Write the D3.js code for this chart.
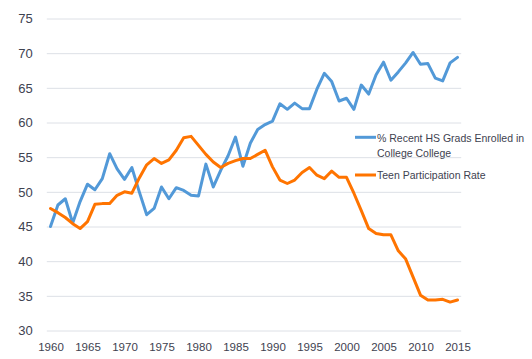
<!DOCTYPE html>
<html>
<head>
<meta charset="utf-8">
<script src="https://cdn.jsdelivr.net/npm/d3@7"></script>
<style>
  html, body { margin: 0; padding: 0; background: #ffffff; }
  svg { display: block; font-family: "Liberation Sans", Arial, Helvetica, sans-serif; }
</style>
</head>
<body>
<div id="chart"></div>
<script>
const years = d3.range(1960, 2016);
const enrolled = [45.0, 48.1, 49.0, 45.5, 48.6, 51.1, 50.3, 51.9, 55.5, 53.3,
  51.8, 53.5, 50.0, 46.7, 47.6, 50.7, 49.0, 50.6, 50.2, 49.5,
  49.4, 54.0, 50.7, 53.1, 55.2, 57.9, 53.7, 57.0, 59.0, 59.7,
  60.2, 62.7, 61.9, 62.8, 62.0, 62.0, 64.8, 67.1, 65.9, 63.1,
  63.5, 61.9, 65.4, 64.1, 66.9, 68.7, 66.1, 67.3, 68.6, 70.1,
  68.4, 68.5, 66.4, 66.0, 68.6, 69.4];
const teen = [47.6, 47.0, 46.3, 45.4, 44.7, 45.7, 48.2, 48.3, 48.3, 49.5,
  50.0, 49.8, 52.0, 53.9, 54.8, 54.1, 54.6, 56.0, 57.8, 58.0,
  56.7, 55.4, 54.3, 53.5, 54.1, 54.5, 54.8, 54.8, 55.4, 56.0,
  53.6, 51.7, 51.2, 51.7, 52.8, 53.5, 52.4, 51.9, 53.0, 52.1,
  52.1, 49.8, 47.3, 44.7, 44.0, 43.8, 43.8, 41.5, 40.3, 37.7,
  35.1, 34.4, 34.4, 34.5, 34.1, 34.4];
const seriesNames = ["% Recent HS Grads Enrolled in College College", "Teen Participation Rate"];
const legendLines = [["% Recent HS Grads Enrolled in", "College College"], ["Teen Participation Rate"]];
const yTicks = [30, 35, 40, 45, 50, 55, 60, 65, 70, 75];
const xTicks = [1960, 1965, 1970, 1975, 1980, 1985, 1990, 1995, 2000, 2005, 2010, 2015];
const colors = ["#5299d8", "#ff7400"];

const W = 532, H = 359;
const svg = d3.select("#chart").append("svg").attr("width", W).attr("height", H);

const x = d3.scaleLinear().domain([1959.5, 2015.5]).range([46.8, 461.2]);
const y = d3.scaleLinear().domain([30, 75]).range([330.5, 18.5]);

// Y axis with gridlines
const yAxis = d3.axisLeft(y).tickValues(yTicks).tickSize(-(x.range()[1] - x.range()[0])).tickPadding(14);
const gy = svg.append("g").attr("transform", `translate(${x.range()[0]},0)`).call(yAxis);
gy.select(".domain").remove();
gy.selectAll(".tick line").attr("stroke", "#dde0e6").attr("stroke-width", 1);
gy.selectAll(".tick text").attr("fill", "#3e4250").attr("font-size", 13).attr("font-family", "Liberation Sans, Arial, sans-serif");

// X axis labels
const xAxis = d3.axisBottom(x).tickValues(xTicks).tickFormat(d3.format("d")).tickSize(0).tickPadding(12);
const gx = svg.append("g").attr("transform", `translate(0,${y(30)})`).call(xAxis);
gx.select(".domain").remove();
gx.selectAll(".tick text").attr("fill", "#3e4250").attr("font-size", 11.5).attr("font-family", "Liberation Sans, Arial, sans-serif");

const line = d3.line().x((d, i) => x(years[i])).y(d => y(d));
[enrolled, teen].forEach((s, k) => {
  svg.append("path").datum(s)
    .attr("d", line)
    .attr("fill", "none")
    .attr("stroke", colors[k])
    .attr("stroke-width", 3)
    .attr("stroke-linejoin", "round")
    .attr("stroke-linecap", "round");
});

// Legend
const legendY = [137.3, 175];
legendLines.forEach((lines, k) => {
  const g = svg.append("g");
  g.append("line").attr("x1", 355).attr("x2", 376).attr("y1", legendY[k]).attr("y2", legendY[k])
    .attr("stroke", colors[k]).attr("stroke-width", 3);
  lines.forEach((t, j) => {
    g.append("text").attr("x", 377).attr("y", legendY[k] + 4.2 + j * 15.5)
      .attr("fill", "#3e4250").attr("font-size", 10.5).text(t);
  });
});
</script>
</body>
</html>
